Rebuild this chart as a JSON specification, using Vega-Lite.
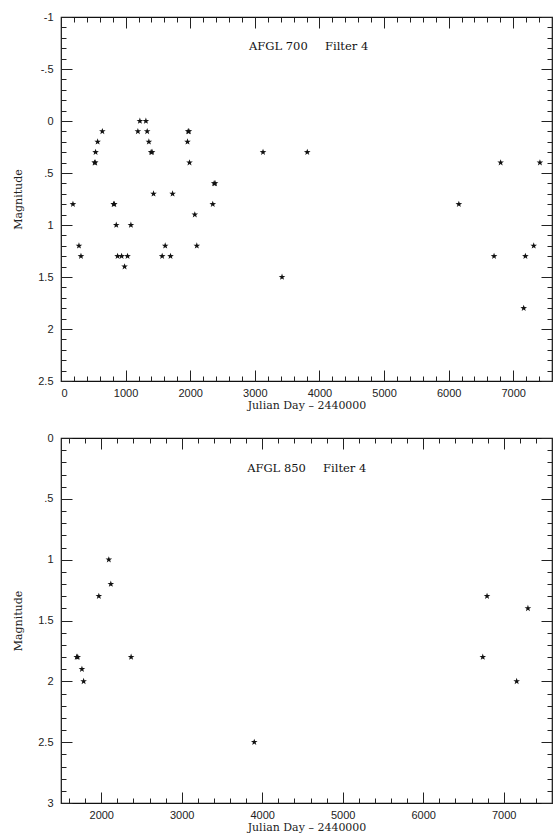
{
  "$schema": "https://vega.github.io/schema/vega-lite/v6.json",
  "padding": {"left": 12, "top": 10, "right": 7, "bottom": 2},
  "bounds": "flush",
  "spacing": 57,
  "config": {
    "view": {"stroke": "#111", "strokeWidth": 1.2},
    "axis": {"domain": false, "grid": false, "tickColor": "#222", "tickWidth": 1, "labelFont": "Liberation Sans", "labelFontSize": 11, "labelColor": "#222", "titleFont": "DejaVu Serif", "titleFontSize": 11, "titleFontWeight": "normal", "titleColor": "#222"}
  },
  "datasets": {
    "afgl700": [
      {"jd": 185, "mag": 0.8}, {"jd": 278, "mag": 1.2}, {"jd": 309, "mag": 1.3},
      {"jd": 520, "mag": 0.4}, {"jd": 530, "mag": 0.4}, {"jd": 535, "mag": 0.3}, {"jd": 567, "mag": 0.2}, {"jd": 640, "mag": 0.1},
      {"jd": 815, "mag": 0.8}, {"jd": 825, "mag": 0.8}, {"jd": 855, "mag": 1.0}, {"jd": 876, "mag": 1.3}, {"jd": 938, "mag": 1.3},
      {"jd": 984, "mag": 1.4}, {"jd": 1030, "mag": 1.3}, {"jd": 1082, "mag": 1.0}, {"jd": 1190, "mag": 0.1}, {"jd": 1221, "mag": 0.0},
      {"jd": 1314, "mag": 0.0}, {"jd": 1334, "mag": 0.1}, {"jd": 1360, "mag": 0.2}, {"jd": 1395, "mag": 0.3}, {"jd": 1410, "mag": 0.3},
      {"jd": 1432, "mag": 0.7}, {"jd": 1566, "mag": 1.3}, {"jd": 1613, "mag": 1.2}, {"jd": 1695, "mag": 1.3}, {"jd": 1727, "mag": 0.7},
      {"jd": 1958, "mag": 0.2}, {"jd": 1968, "mag": 0.1}, {"jd": 1980, "mag": 0.1}, {"jd": 1989, "mag": 0.4}, {"jd": 2071, "mag": 0.9},
      {"jd": 2102, "mag": 1.2}, {"jd": 2349, "mag": 0.8}, {"jd": 2370, "mag": 0.6}, {"jd": 2385, "mag": 0.6}, {"jd": 3127, "mag": 0.3},
      {"jd": 3421, "mag": 1.5}, {"jd": 3812, "mag": 0.3}, {"jd": 6158, "mag": 0.8}, {"jd": 6703, "mag": 1.3}, {"jd": 6805, "mag": 0.4},
      {"jd": 7162, "mag": 1.8}, {"jd": 7188, "mag": 1.3}, {"jd": 7317, "mag": 1.2}, {"jd": 7413, "mag": 0.4}
    ],
    "afgl850": [
      {"jd": 1695, "mag": 1.8}, {"jd": 1708, "mag": 1.8}, {"jd": 1760, "mag": 1.9}, {"jd": 1781, "mag": 2.0}, {"jd": 1970, "mag": 1.3},
      {"jd": 2094, "mag": 1.0}, {"jd": 2119, "mag": 1.2}, {"jd": 2371, "mag": 1.8}, {"jd": 3901, "mag": 2.5}, {"jd": 6740, "mag": 1.8},
      {"jd": 6793, "mag": 1.3}, {"jd": 7161, "mag": 2.0}, {"jd": 7301, "mag": 1.4}
    ]
  },
  "vconcat": [
    {
      "width": 491, "height": 364,
      "resolve": {"axis": {"x": "independent", "y": "independent"}},
      "layer": [
        {
          "data": {"name": "afgl700"},
          "mark": {"type": "point", "shape": "M0,-1L0.235,-0.324L0.951,-0.309L0.380,0.124L0.588,0.809L0,0.4L-0.588,0.809L-0.380,0.124L-0.951,-0.309L-0.235,-0.324Z", "filled": true, "color": "#111", "size": 48, "opacity": 1},
          "encoding": {
            "x": {"field": "jd", "type": "quantitative", "scale": {"domain": [0, 7600], "nice": false, "zero": false},
              "axis": {"orient": "bottom", "title": "Julian Day \u2013 2440000", "format": "d",
                "values": [0,1000,2000,3000,4000,5000,6000,7000],
                "tickSize": -11, "labelPadding": 17, "titlePadding": 1}},
            "y": {"field": "mag", "type": "quantitative", "scale": {"domain": [-1, 2.5], "reverse": true, "nice": false, "zero": false},
              "axis": {"orient": "left", "title": "Magnitude",
                "values": [-1,-0.5,0,0.5,1,1.5,2,2.5],
                "labelExpr": "datum.value == 0.5 ? '.5' : datum.value == -0.5 ? '-.5' : toString(datum.value)",
                "tickSize": -11, "labelPadding": 19, "titlePadding": 14}}
          }
        },
        {
          "data": {"values": [{"label": "AFGL 700\u2002\u2002\u2002Filter 4", "jd": 3833, "mag": -0.714}]},
          "mark": {"type": "text", "font": "DejaVu Serif", "fontSize": 11.5, "color": "#111", "align": "center", "baseline": "middle"},
          "encoding": {
            "text": {"field": "label"},
            "x": {"field": "jd", "type": "quantitative",
              "axis": {"orient": "top", "title": null, "labels": false, "values": [0,1000,2000,3000,4000,5000,6000,7000], "tickSize": -11}},
            "y": {"field": "mag", "type": "quantitative",
              "axis": {"orient": "right", "title": null, "labels": false, "values": [-1,-0.5,0,0.5,1,1.5,2,2.5], "tickSize": -11}}
          }
        },
        {
          "data": {"name": "afgl700"},
          "mark": {"type": "point", "opacity": 0},
          "encoding": {
            "x": {"field": "jd", "type": "quantitative",
              "axis": {"orient": "bottom", "title": null, "labels": false, "tickSize": -5,
                "values": [0,200,400,600,800,1000,1200,1400,1600,1800,2000,2200,2400,2600,2800,3000,3200,3400,3600,3800,4000,4200,4400,4600,4800,5000,5200,5400,5600,5800,6000,6200,6400,6600,6800,7000,7200,7400]}},
            "y": {"field": "mag", "type": "quantitative",
              "axis": {"orient": "left", "title": null, "labels": false, "tickSize": -5,
                "values": [-1,-0.9,-0.8,-0.7,-0.6,-0.5,-0.4,-0.3,-0.2,-0.1,0,0.1,0.2,0.3,0.4,0.5,0.6,0.7,0.8,0.9,1,1.1,1.2,1.3,1.4,1.5,1.6,1.7,1.8,1.9,2,2.1,2.2,2.3,2.4,2.5]}}
          }
        },
        {
          "data": {"name": "afgl700"},
          "mark": {"type": "point", "opacity": 0},
          "encoding": {
            "x": {"field": "jd", "type": "quantitative",
              "axis": {"orient": "top", "title": null, "labels": false, "tickSize": -5,
                "values": [0,200,400,600,800,1000,1200,1400,1600,1800,2000,2200,2400,2600,2800,3000,3200,3400,3600,3800,4000,4200,4400,4600,4800,5000,5200,5400,5600,5800,6000,6200,6400,6600,6800,7000,7200,7400]}},
            "y": {"field": "mag", "type": "quantitative",
              "axis": {"orient": "right", "title": null, "labels": false, "tickSize": -5,
                "values": [-1,-0.9,-0.8,-0.7,-0.6,-0.5,-0.4,-0.3,-0.2,-0.1,0,0.1,0.2,0.3,0.4,0.5,0.6,0.7,0.8,0.9,1,1.1,1.2,1.3,1.4,1.5,1.6,1.7,1.8,1.9,2,2.1,2.2,2.3,2.4,2.5]}}
          }
        }
      ]
    },
    {
      "width": 491, "height": 365,
      "resolve": {"axis": {"x": "independent", "y": "independent"}},
      "layer": [
        {
          "data": {"name": "afgl850"},
          "mark": {"type": "point", "shape": "M0,-1L0.235,-0.324L0.951,-0.309L0.380,0.124L0.588,0.809L0,0.4L-0.588,0.809L-0.380,0.124L-0.951,-0.309L-0.235,-0.324Z", "filled": true, "color": "#111", "size": 48, "opacity": 1},
          "encoding": {
            "x": {"field": "jd", "type": "quantitative", "scale": {"domain": [1500, 7600], "nice": false, "zero": false},
              "axis": {"orient": "bottom", "title": "Julian Day \u2013 2440000", "format": "d",
                "values": [2000,3000,4000,5000,6000,7000],
                "tickSize": -11, "labelPadding": 17, "titlePadding": 1}},
            "y": {"field": "mag", "type": "quantitative", "scale": {"domain": [0, 3], "reverse": true, "nice": false, "zero": false},
              "axis": {"orient": "left", "title": "Magnitude",
                "values": [0,0.5,1,1.5,2,2.5,3],
                "labelExpr": "datum.value == 0.5 ? '.5' : toString(datum.value)",
                "tickSize": -11, "labelPadding": 19, "titlePadding": 14}}
          }
        },
        {
          "data": {"values": [{"label": "AFGL 850\u2002\u2002\u2002Filter 4", "jd": 4553, "mag": 0.254}]},
          "mark": {"type": "text", "font": "DejaVu Serif", "fontSize": 11.5, "color": "#111", "align": "center", "baseline": "middle"},
          "encoding": {
            "text": {"field": "label"},
            "x": {"field": "jd", "type": "quantitative",
              "axis": {"orient": "top", "title": null, "labels": false, "values": [2000,3000,4000,5000,6000,7000], "tickSize": -11}},
            "y": {"field": "mag", "type": "quantitative",
              "axis": {"orient": "right", "title": null, "labels": false, "values": [0,0.5,1,1.5,2,2.5,3], "tickSize": -11}}
          }
        },
        {
          "data": {"name": "afgl850"},
          "mark": {"type": "point", "opacity": 0},
          "encoding": {
            "x": {"field": "jd", "type": "quantitative",
              "axis": {"orient": "bottom", "title": null, "labels": false, "tickSize": -5,
                "values": [1600,1800,2000,2200,2400,2600,2800,3000,3200,3400,3600,3800,4000,4200,4400,4600,4800,5000,5200,5400,5600,5800,6000,6200,6400,6600,6800,7000,7200,7400]}},
            "y": {"field": "mag", "type": "quantitative",
              "axis": {"orient": "left", "title": null, "labels": false, "tickSize": -5,
                "values": [0,0.1,0.2,0.3,0.4,0.5,0.6,0.7,0.8,0.9,1,1.1,1.2,1.3,1.4,1.5,1.6,1.7,1.8,1.9,2,2.1,2.2,2.3,2.4,2.5,2.6,2.7,2.8,2.9,3]}}
          }
        },
        {
          "data": {"name": "afgl850"},
          "mark": {"type": "point", "opacity": 0},
          "encoding": {
            "x": {"field": "jd", "type": "quantitative",
              "axis": {"orient": "top", "title": null, "labels": false, "tickSize": -5,
                "values": [1600,1800,2000,2200,2400,2600,2800,3000,3200,3400,3600,3800,4000,4200,4400,4600,4800,5000,5200,5400,5600,5800,6000,6200,6400,6600,6800,7000,7200,7400]}},
            "y": {"field": "mag", "type": "quantitative",
              "axis": {"orient": "right", "title": null, "labels": false, "tickSize": -5,
                "values": [0,0.1,0.2,0.3,0.4,0.5,0.6,0.7,0.8,0.9,1,1.1,1.2,1.3,1.4,1.5,1.6,1.7,1.8,1.9,2,2.1,2.2,2.3,2.4,2.5,2.6,2.7,2.8,2.9,3]}}
          }
        }
      ]
    }
  ]
}
